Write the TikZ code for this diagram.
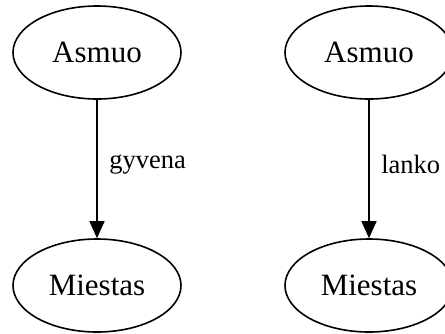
\documentclass[tikz,border=0pt]{standalone}
\usepackage{fontspec}
\setmainfont{Liberation Serif}
\usetikzlibrary{arrows.meta,shapes.geometric}
\begin{document}
\begin{tikzpicture}[x=1pt,y=-1pt,
  entity/.style={draw, ellipse, line width=1.6pt, minimum width=168pt,
    minimum height=93pt, inner sep=0pt, font=\fontsize{31}{37}\selectfont},
  relation/.style={draw, line width=1.6pt,
    -{Triangle[length=17pt,width=15pt]}},
  rellabel/.style={anchor=west, inner sep=0pt, xshift=11.5pt,
    font=\fontsize{26.5}{31}\selectfont}]
  \useasboundingbox (0,0) rectangle (445,333);
  \clip (0,0) rectangle (445,333);
  % first graph
  \node[entity] (a1) at (97,52.5) {Asmuo};
  \node[entity] (m1) at (97,285.5) {Miestas};
  \draw[relation] (a1) -- node[rellabel, pos=0.47] {gyvena} (m1);
  % second graph
  \node[entity] (a2) at (369,52.5) {Asmuo};
  \node[entity] (m2) at (369,285.5) {Miestas};
  \draw[relation] (a2) -- node[rellabel, pos=0.47] {lanko} (m2);
\end{tikzpicture}
\end{document}
